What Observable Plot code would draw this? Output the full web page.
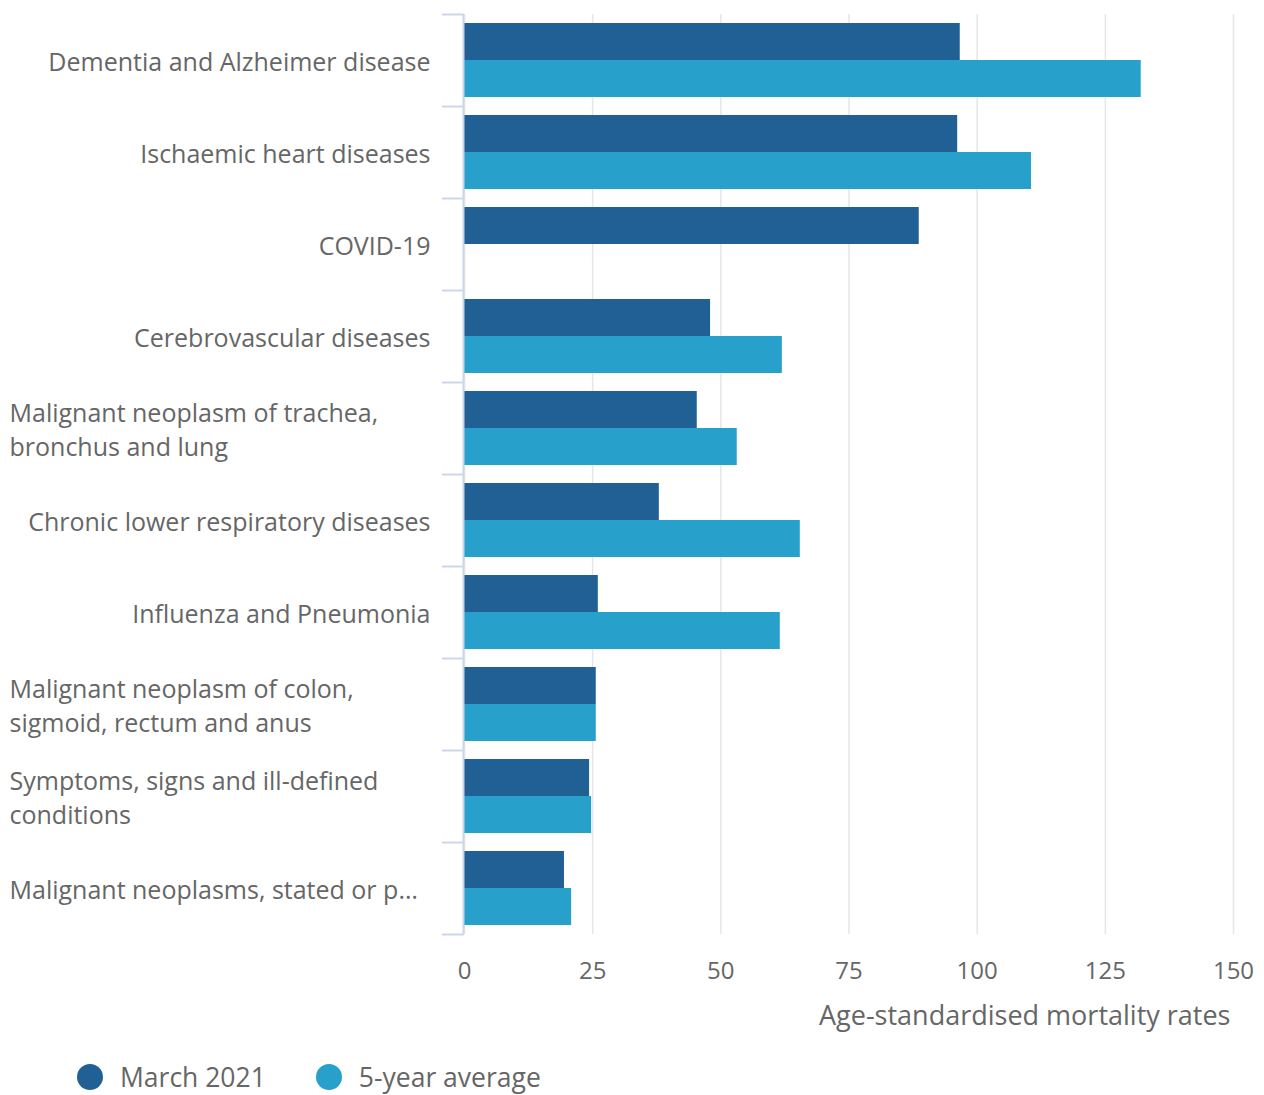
<!DOCTYPE html>
<html>
<head>
<meta charset="utf-8">
<script src="https://cdn.jsdelivr.net/npm/d3@7"></script>
<script src="https://cdn.jsdelivr.net/npm/@observablehq/plot@0.6"></script>
<style>
  html, body { margin: 0; padding: 0; background: #fff; overflow: hidden; }
  #legend { display: flex; align-items: center; height: 74px; padding-left: 77px;
    font-family: "Open Sans", sans-serif; font-size: 26.5px; color: #666; }
  .item { display: flex; align-items: center; margin-right: 50px; }
  .dot { width: 26px; height: 26px; border-radius: 50%; margin-right: 17px; }
</style>
</head>
<body>
<div id="chart"></div>
<div id="legend"></div>
<script>
const categories = [
  "Dementia and Alzheimer disease",
  "Ischaemic heart diseases",
  "COVID-19",
  "Cerebrovascular diseases",
  "Malignant neoplasm of trachea, bronchus and lung",
  "Chronic lower respiratory diseases",
  "Influenza and Pneumonia",
  "Malignant neoplasm of colon, sigmoid, rectum and anus",
  "Symptoms, signs and ill-defined conditions",
  "Malignant neoplasms, stated or p…"
];
const labels = [
  "Dementia and Alzheimer disease",
  "Ischaemic heart diseases",
  "COVID-19",
  "Cerebrovascular diseases",
  "Malignant neoplasm of trachea,\nbronchus and lung",
  "Chronic lower respiratory diseases",
  "Influenza and Pneumonia",
  "Malignant neoplasm of colon,\nsigmoid, rectum and anus",
  "Symptoms, signs and ill-defined\nconditions",
  "Malignant neoplasms, stated or p…"
];
const leftAligned = [false, false, false, false, true, false, false, true, true, true];
const march2021 = [96.7, 96.2, 88.7, 48.0, 45.4, 38.0, 26.1, 25.7, 24.4, 19.5];
const fiveYearAvg = [132.0, 110.6, null, 62.0, 53.2, 65.5, 61.6, 25.7, 24.8, 20.9];
const seriesNames = ["March 2021", "5-year average"];
const seriesColors = ["#206095", "#27a0cc"];
const xTicks = [0, 25, 50, 75, 100, 125, 150];
const xTitle = "Age-standardised mortality rates";

const rows = categories.map((c, i) => ({
  category: c, label: labels[i], left: leftAligned[i],
  march: march2021[i], avg: fiveYearAvg[i]
}));

const axisColor = "#ccd6eb";

const chart = Plot.plot({
  width: 1264,
  height: 1040,
  marginTop: 14,
  marginBottom: 106,
  marginLeft: 464,
  marginRight: 31,
  style: { fontFamily: "'Open Sans', sans-serif", fontSize: "24px", color: "#666", background: "#fff" },
  x: { domain: [0, 150] },
  y: { domain: categories, padding: 0 },
  color: { domain: seriesNames, range: seriesColors },
  marks: [
    Plot.gridX({ ticks: xTicks, stroke: "#e6e6e6", strokeOpacity: 1, strokeWidth: 1.5 }),
    Plot.barX(rows.filter(d => d.march != null), {
      x: "march", y: "category", fill: () => seriesNames[0],
      insetTop: 9, insetBottom: 46
    }),
    Plot.barX(rows.filter(d => d.avg != null), {
      x: "avg", y: "category", fill: () => seriesNames[1],
      insetTop: 46, insetBottom: 9
    }),
    Plot.ruleX([0], { stroke: axisColor, strokeWidth: 2, dx: -1 }),
    Plot.axisY({ tickSize: 22, fill: "none", stroke: axisColor, strokeWidth: 2, dy: -46, label: null }),
    Plot.axisY({ ticks: [categories[categories.length - 1]], tickSize: 22, fill: "none", stroke: axisColor, strokeWidth: 2, dy: 46, label: null }),
    Plot.text(rows.filter(d => !d.left), {
      y: "category", text: "label", frameAnchor: "left", textAnchor: "end",
      dx: -34, fill: "#666", fontSize: 25, lineHeight: 1.36
    }),
    Plot.text(rows.filter(d => d.left), {
      y: "category", text: "label", frameAnchor: "left", textAnchor: "start",
      dx: -455, fill: "#666", fontSize: 25, lineHeight: 1.36
    }),
    Plot.axisX({
      ticks: xTicks, tickSize: 0, tickPadding: 27, fill: "#666", label: null
    }),
    Plot.text([xTitle], {
      text: d => d, frameAnchor: "bottom-right", textAnchor: "end",
      dx: -3, dy: 90, fill: "#666", fontSize: 27
    })
  ]
});
document.getElementById("chart").appendChild(chart);

const legend = document.getElementById("legend");
seriesNames.forEach((name, i) => {
  const item = document.createElement("div");
  item.className = "item";
  const dot = document.createElement("span");
  dot.className = "dot";
  dot.style.background = seriesColors[i];
  const txt = document.createElement("span");
  txt.textContent = name;
  item.appendChild(dot);
  item.appendChild(txt);
  legend.appendChild(item);
});
</script>
</body>
</html>
